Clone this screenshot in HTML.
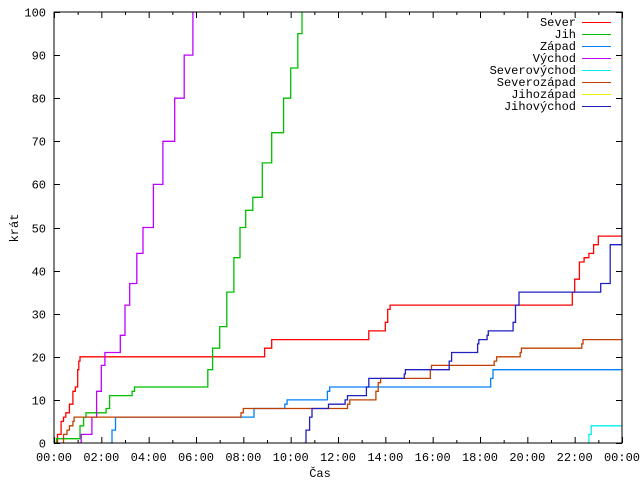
<!DOCTYPE html>
<html><head><meta charset="utf-8"><style>
body{margin:0;background:#fff}
svg{display:block;font-family:"Liberation Mono",monospace;font-size:12px}
</style></head><body>
<svg id="chart" width="640" height="480" viewBox="0 0 640 480" xmlns="http://www.w3.org/2000/svg">
<defs><clipPath id="pc"><rect x="54" y="12" width="568" height="431"/></clipPath></defs>
<g id="grid"></g>
<g id="series" clip-path="url(#pc)"></g>
<rect x="54" y="12" width="568" height="431" fill="none" stroke="#000" stroke-width="1"/>
<text transform="translate(18,228) rotate(-90)" text-anchor="middle">krát</text>
<text x="320" y="477" text-anchor="middle">Čas</text>
<g id="legend"></g>
</svg>
<script>
const xTickLabels=["00:00","02:00","04:00","06:00","08:00","10:00","12:00","14:00","16:00","18:00","20:00","22:00","00:00"];
const yTickLabels=["0","10","20","30","40","50","60","70","80","90","100"];
const seriesNames=["Sever","Jih","Západ","Východ","Severovýchod","Severozápad","Jihozápad","Jihovýchod"];
const seriesColors=["#ff0000","#00c000","#0080ff","#c000ff","#00eeee","#c04000","#eeee00","#2020c0"];
const sever=[[0.05,0],[0.15,2],[0.3,5],[0.4,6],[0.5,7],[0.65,9],[0.8,12],[0.9,13],[1.0,17],[1.05,19],[1.1,20],[8.9,22],[9.2,24],[13.3,26],[14.0,28],[14.1,31],[14.2,32],[21.9,35],[22.0,38],[22.2,42],[22.4,43],[22.6,44],[22.8,46],[23.0,48],[24,48]];
const jih=[[0.1,1],[1.0,1],[1.1,4],[1.25,6],[1.35,7],[2.2,8],[2.35,11],[3.3,12],[3.4,13],[6.4,13],[6.5,17],[6.7,22],[7.0,27],[7.3,35],[7.6,43],[7.86,50],[8.1,54],[8.4,57],[8.8,65],[9.2,72],[9.7,80],[10.0,87],[10.3,95],[10.48,100]];
const zapad=[[2.35,0],[2.45,3],[2.6,6],[8.3,6],[8.45,8],[9.75,9],[9.85,10],[11.55,12],[11.65,13],[18.45,15],[18.55,17],[24,17]];
const vychod=[[1.1,0],[1.15,2],[1.45,2],[1.6,6],[1.8,12],[2.0,18],[2.15,21],[2.65,21],[2.8,25],[3.0,32],[3.2,37],[3.5,44],[3.76,50],[4.2,60],[4.6,70],[5.1,80],[5.5,90],[5.87,100]];
const severovychod=[[22.55,0],[22.6,2],[22.7,4],[24,4]];
const severozapad=[[0.35,0],[0.4,2],[0.55,3],[0.65,4],[0.8,5],[0.85,6],[7.9,7],[8.0,8],[12.4,9],[12.5,10],[13.6,12],[13.7,14],[13.8,15],[15.9,17],[15.95,18],[18.6,19],[18.7,20],[19.7,21],[19.75,22],[22.3,23],[22.35,24],[24,24]];
const jihozapad=[];
const jihovychod=[[10.55,0],[10.65,3],[10.8,6],[10.9,8],[11.55,8],[11.6,9],[12.3,10],[12.4,11],[13.2,13],[13.3,15],[14.8,16],[14.85,17],[16.7,19],[16.8,21],[17.9,23],[17.95,24],[18.3,25],[18.35,26],[19.4,28],[19.5,32],[19.65,35],[23.0,35],[23.1,37],[23.5,46],[24,60]];
const allSeries=[sever,jih,zapad,vychod,severovychod,severozapad,jihozapad,jihovychod];
const NS="http://www.w3.org/2000/svg";
const X0=54,X1=622,Y0=443,Y1=12;
function xs(h){return X0+(X1-X0)*h/24;}
function ys(v){return Y0-(Y0-Y1)*v/100;}
const grid=document.getElementById('grid');
function mk(tag,attrs,parent){const e=document.createElementNS(NS,tag);for(const k in attrs)e.setAttribute(k,attrs[k]);parent.appendChild(e);return e;}
for(let h=0;h<=24;h++){
  const x=xs(h)+0.5;const len=(h%2===0)?6:3;
  const t1=mk('line',{x1:x,x2:x,y1:Y0,y2:Y0-len,stroke:'#000'},grid);
  
  
  mk('line',{x1:x,x2:x,y1:Y1,y2:Y1+len,stroke:'#000'},grid);
}
xTickLabels.forEach((l,i)=>{
  const t=mk('text',{x:xs(i*2),y:461,'text-anchor':'middle'},grid);
  t.textContent=l;
  
  
});
yTickLabels.forEach((l,i)=>{
  const v=i*10;const y=Math.round(ys(v))+0.5;
  mk('line',{x1:X0,x2:X0+6,y1:y,y2:y,stroke:'#000'},grid);
  mk('line',{x1:X1-6,x2:X1,y1:y,y2:y,stroke:'#000'},grid);
  const t=mk('text',{x:46,y:y+4,'text-anchor':'end'},grid);
  t.textContent=l;
  
  
});
const sg=document.getElementById('series');
allSeries.forEach((pts,i)=>{
  if(!pts.length)return;
  let d='M'+xs(pts[0][0]).toFixed(1)+' '+ys(0).toFixed(1)+' V'+ys(pts[0][1]).toFixed(1);
  for(let k=1;k<pts.length;k++){d+=' H'+xs(pts[k][0]).toFixed(1)+' V'+ys(pts[k][1]).toFixed(1);}
  const p=mk('path',{d:d,fill:'none',stroke:seriesColors[i],'stroke-width':1.3},sg);
  
  
});
const lg=document.getElementById('legend');
seriesNames.forEach((n,i)=>{
  const y=22+i*12;
  const t=mk('text',{x:576,y:y+4,'text-anchor':'end'},lg);
  t.textContent=n;
  
  
  const l=mk('line',{x1:582,x2:611,y1:y+0.5,y2:y+0.5,stroke:seriesColors[i],'stroke-width':1},lg);
  
  
});
</script>
</body></html>
